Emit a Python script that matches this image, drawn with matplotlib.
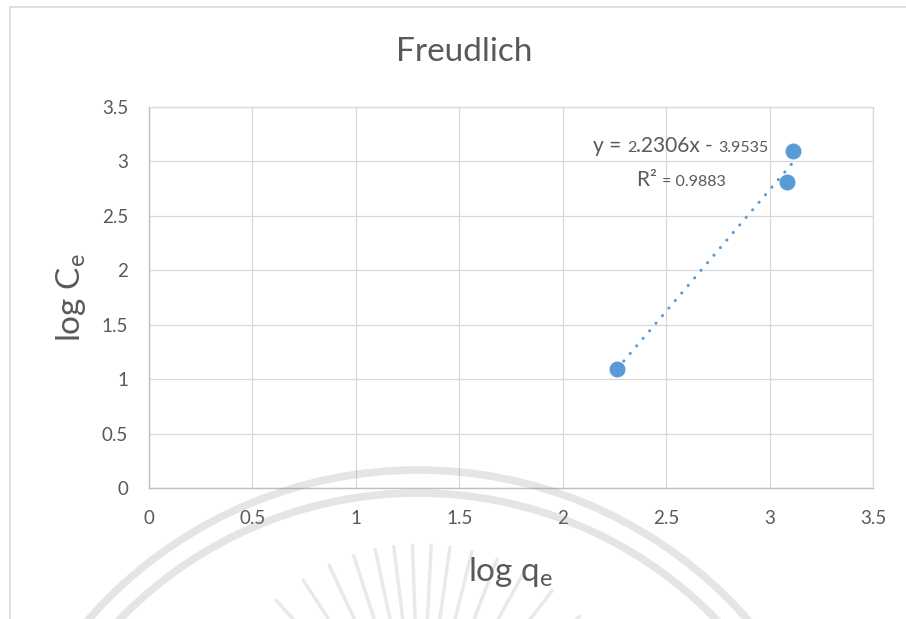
import numpy as np
import matplotlib
matplotlib.use("Agg")
import matplotlib.pyplot as plt
from matplotlib.patches import Rectangle, Arc

plt.rcParams['font.family'] = ['Lato', 'DejaVu Sans']
plt.rcParams['mathtext.fontset'] = 'custom'
plt.rcParams['mathtext.rm'] = 'Lato'
plt.rcParams['mathtext.it'] = 'Lato:italic'

# log qe vs log Ce points
log_qe = [2.264, 3.083, 3.111]
log_ce = [1.093, 2.807, 3.097]

# linear trendline reported on the chart
slope = 2.2306
intercept = -3.9535
r_squared = 0.9883

x_ticks = [0, 0.5, 1, 1.5, 2, 2.5, 3, 3.5]
y_ticks = [0, 0.5, 1, 1.5, 2, 2.5, 3, 3.5]

blue = '#5B9BD5'
txt = '#595959'
grid = '#D9D9D9'

W, H = 906, 619
fig = plt.figure(figsize=(W / 100, H / 100), dpi=100)

# chart frame
fig.patches.append(Rectangle((10 / W, -0.1), 1.2, 1.1 - 7 / H, transform=fig.transFigure,
                             fill=False, edgecolor=grid, lw=1.2))

ax = fig.add_axes([149 / W, 1 - 488 / H, (873 - 149) / W, (488 - 107) / H])
ax.set_xlim(0, 3.5)
ax.set_ylim(0, 3.5)
ax.set_xticks(x_ticks)
ax.set_yticks(y_ticks)
ax.set_xticklabels([f'{v:g}' for v in x_ticks])
ax.set_yticklabels([f'{v:g}' for v in y_ticks])
ax.grid(True, color=grid, lw=0.9)
ax.set_axisbelow(True)
for side in ['top', 'right']:
    ax.spines[side].set_color(grid)
    ax.spines[side].set_linewidth(0.9)
for side in ['left', 'bottom']:
    ax.spines[side].set_color('#BFBFBF')
    ax.spines[side].set_linewidth(1.0)
ax.tick_params(length=0, labelsize=13.5, labelcolor=txt)
ax.tick_params(axis='x', pad=16)
ax.tick_params(axis='y', pad=15)

# trendline over the data range
xs = np.array([min(log_qe), max(log_qe)])
ax.plot(xs, slope * xs + intercept, color=blue, lw=2.2, linestyle=(0, (0.05, 3.2)),
        dash_capstyle='round', zorder=2)
ax.plot(log_qe, log_ce, 'o', color=blue, ms=10.5, zorder=3)

# title is centred on the whole chart area, not the plot area
fig.text(464 / W, 1 - 52 / H, 'Freudlich', fontsize=24, color=txt, ha='center', va='center')
ax.set_xlabel(r'log q$_\mathrm{e}$', fontsize=24, color=txt, labelpad=20)
ax.set_ylabel(r'log C$_\mathrm{e}$', fontsize=24, color=txt, labelpad=10)

# equation label in mixed sizes, pieces laid side by side on one baseline
fig.canvas.draw()
renderer = fig.canvas.get_renderer()

def chain(parts, x, y):
    for s, size in parts:
        t = fig.text(x / W, 1 - y / H, s, fontsize=size, color=txt, va='baseline')
        x += t.get_window_extent(renderer).width

eq_s = f'{slope:.4f}'
chain([('y = ', 15), (eq_s[0], 11.5), (eq_s[1:] + 'x - ', 15), (f'{-intercept:.4f}', 11.5)],
      593, 152)
chain([('R² ', 15), (f'= {r_squared:.4f}', 11.5)], 637, 186)

# faint seal drawn over the lower part of the figure
wm = fig.add_axes([0, 0, 1, 1], zorder=10)
wm.set_xlim(0, W)
wm.set_ylim(H, 0)
wm.axis('off')
wm.patch.set_alpha(0)
seal_color = '#8A8A8A'
for r in [438, 415]:
    wm.add_patch(Arc((418, 908), 2 * r, 2 * r, theta1=180, theta2=360, color=seal_color,
                     lw=5.5, alpha=0.22))
ray_angles = [-62, -52, -42, -33, -25, -18, -12, -7, -2, 3, 8, 14, 21, 29, 38, 48, 58]
ray_inner = [150, 120, 160, 110, 150, 100, 140, 90, 130, 90, 140, 100, 150, 110, 160, 120, 150]
for a, r0 in zip(ray_angles, ray_inner):
    t = np.deg2rad(a)
    r = np.array([r0, 215])
    wm.plot(420 + r * np.sin(t), 760 - r * np.cos(t), color=seal_color, lw=2.5,
            alpha=0.18, solid_capstyle='round')

fig.savefig('out.png', dpi=100)
